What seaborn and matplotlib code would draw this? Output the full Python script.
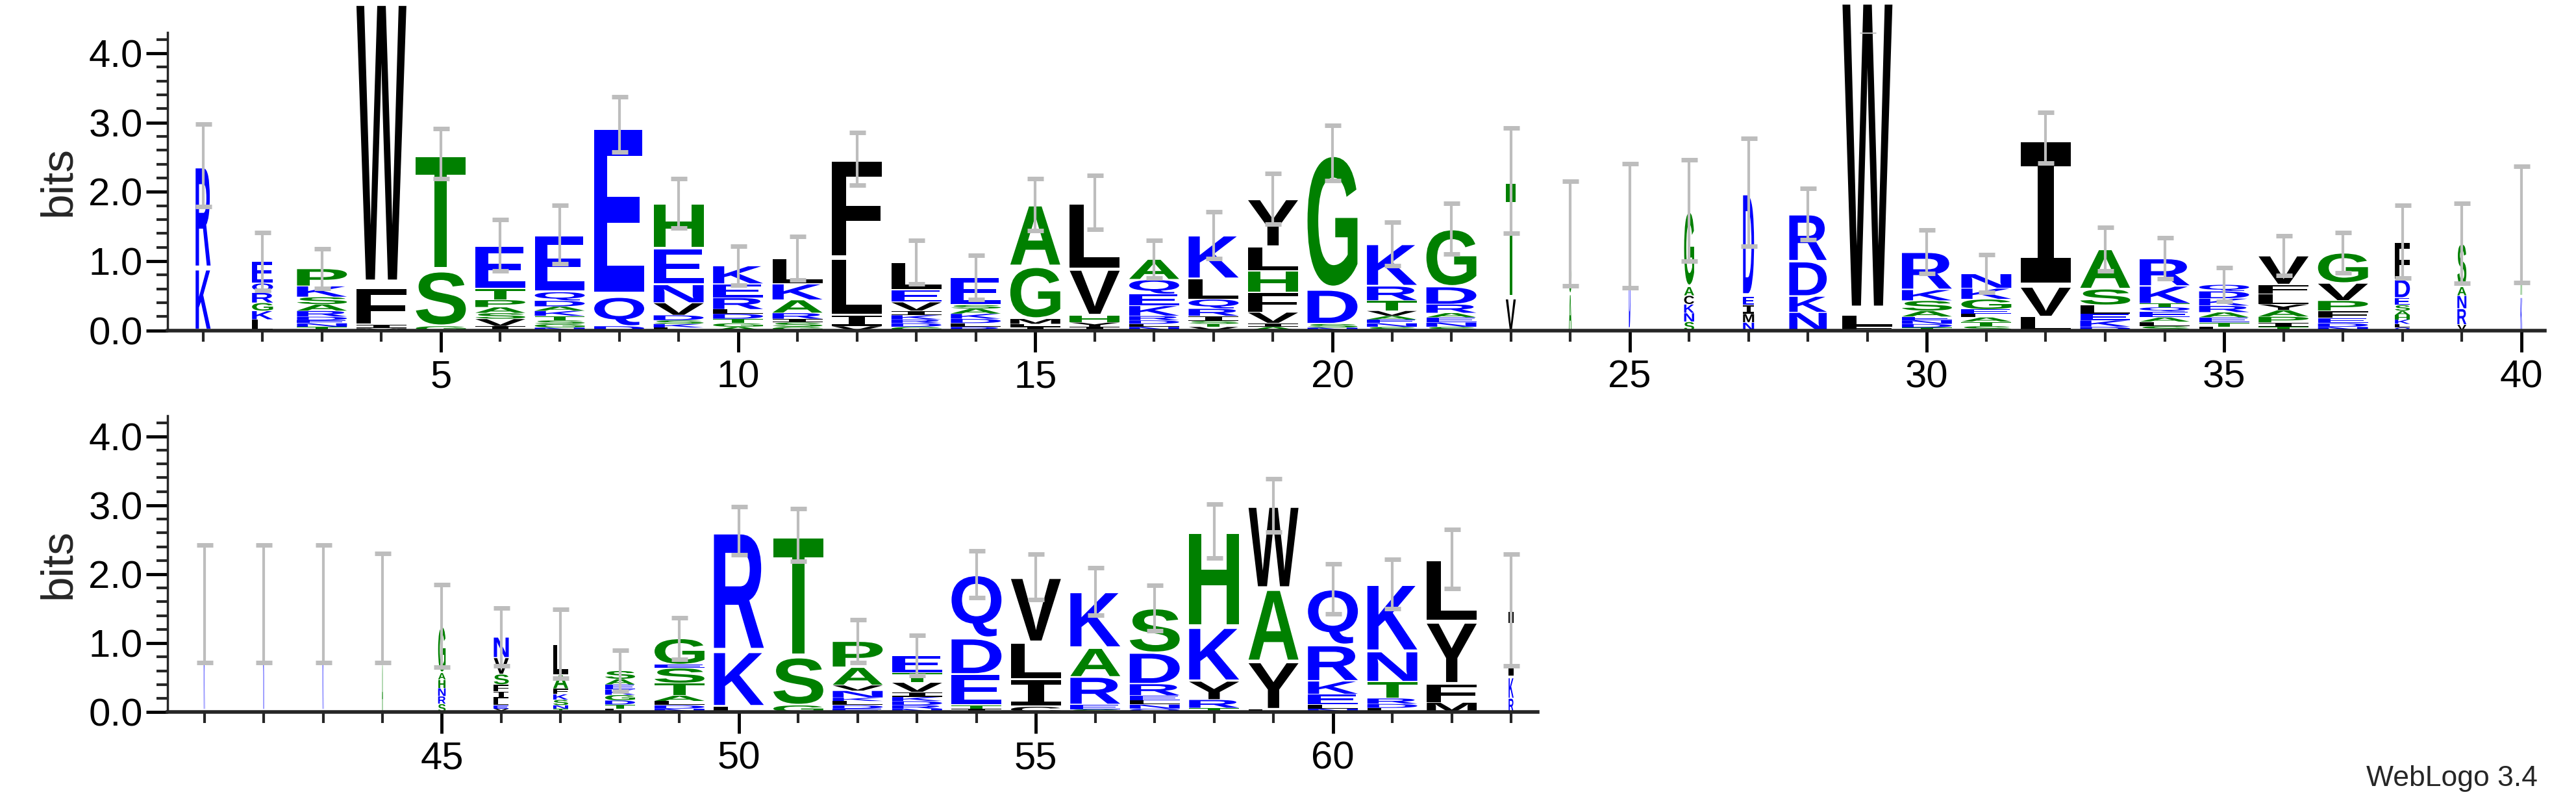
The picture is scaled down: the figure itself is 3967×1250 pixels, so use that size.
import matplotlib
matplotlib.use("Agg")
import matplotlib.pyplot as plt
import seaborn as sns
from matplotlib.textpath import TextPath
from matplotlib.patches import PathPatch
from matplotlib.transforms import Affine2D
from matplotlib.font_manager import FontProperties
from matplotlib.ticker import MultipleLocator

# letter stacks per position, bottom to top, heights in bits
top_letters = [
    "KR", "LKGRQE", "TNEDRASKP", "MIFW", "GST", "IVSAPTE", "NGSTKADQE", "DQE",
    "LKSDVNEH", "AGTDLREK", "GSIRAKL", "VILF", "GDRKIVEL", "RLDKASE", "ILMGA",
    "IYHVL", "NLDRKEQA", "VTSIRQLK", "AIVFHLY", "NSDG", "SNEAVTRK", "SNEARDG",
    "VT", "AS", "D", "SNKCAG", "NMIED", "NKDR", "FLW", "TDNEASKR", "STALEGKN",
    "LVI", "DKELSA", "SLAEQTKR", "LTEARKDQ", "TIPAYLFV", "NDEFPVG",
    "QLKHASEDF", "VRNAS", "KA",
]
top_heights = [
    [0.85, 1.42], [0.15, 0.12, 0.11, 0.14, 0.13, 0.30],
    [0.05, 0.05, 0.04, 0.05, 0.08, 0.09, 0.10, 0.15, 0.24],
    [0.03, 0.05, 0.50, 4.00], [0.06, 0.76, 1.61],
    [0.06, 0.10, 0.08, 0.08, 0.10, 0.15, 0.60],
    [0.04, 0.05, 0.05, 0.06, 0.07, 0.06, 0.08, 0.12, 0.79], [0.06, 0.40, 2.37],
    [0.04, 0.05, 0.05, 0.07, 0.17, 0.25, 0.50, 0.62],
    [0.05, 0.05, 0.06, 0.07, 0.06, 0.16, 0.19, 0.25],
    [0.05, 0.06, 0.05, 0.08, 0.18, 0.22, 0.35], [0.06, 0.15, 0.78, 1.37],
    [0.05, 0.05, 0.05, 0.06, 0.06, 0.12, 0.17, 0.38],
    [0.05, 0.05, 0.06, 0.07, 0.07, 0.05, 0.38], [0.05, 0.04, 0.07, 0.72, 0.85],
    [0.05, 0.06, 0.10, 0.63, 0.92], [0.05, 0.04, 0.05, 0.06, 0.14, 0.16, 0.20, 0.28],
    [0.05, 0.04, 0.04, 0.07, 0.10, 0.13, 0.28, 0.60],
    [0.05, 0.05, 0.15, 0.27, 0.30, 0.33, 0.66], [0.04, 0.05, 0.47, 1.88],
    [0.05, 0.05, 0.05, 0.05, 0.07, 0.14, 0.20, 0.58],
    [0.05, 0.06, 0.07, 0.06, 0.12, 0.24, 0.80],
    [0.44, 1.62], [0.50, 0.83], [1.44], [0.12, 0.12, 0.12, 0.12, 0.12, 1.05],
    [0.11, 0.12, 0.12, 0.12, 1.43], [0.25, 0.22, 0.48, 0.65], [0.06, 0.15, 4.40],
    [0.04, 0.05, 0.05, 0.05, 0.08, 0.14, 0.15, 0.52],
    [0.06, 0.06, 0.06, 0.05, 0.06, 0.14, 0.15, 0.20], [0.19, 0.41, 2.05],
    [0.05, 0.09, 0.09, 0.12, 0.22, 0.55],
    [0.06, 0.06, 0.06, 0.08, 0.06, 0.05, 0.24, 0.38],
    [0.05, 0.06, 0.07, 0.07, 0.09, 0.10, 0.10, 0.09],
    [0.05, 0.06, 0.08, 0.09, 0.08, 0.14, 0.13, 0.40],
    [0.05, 0.05, 0.07, 0.10, 0.14, 0.24, 0.42],
    [0.04, 0.05, 0.06, 0.06, 0.06, 0.08, 0.10, 0.25, 0.52],
    [0.08, 0.22, 0.18, 0.12, 0.60], [0.46, 1.00],
]
top_errors = [0.57, 0.40, 0.27, 0.45, 0.34, 0.35, 0.40, 0.38, 0.34, 0.27,
              0.30, 0.36, 0.30, 0.30, 0.36, 0.37, 0.26, 0.32, 0.35, 0.38,
              0.30, 0.35, 0.72, 0.72, 0.85, 0.70, 0.74, 0.35, 0.50, 0.30,
              0.26, 0.35, 0.30, 0.28, 0.23, 0.27, 0.28, 0.50, 0.55, 0.80]
top_occupancy = [0.30, 0.42, 1, 1, 1, 1, 1, 1, 1, 1,
                 1, 1, 1, 1, 1, 1, 1, 1, 1, 1,
                 1, 1, 0.20, 0.05, 0.03, 0.20, 0.22, 0.75, 1, 1,
                 1, 1, 1, 1, 1, 1, 1, 0.30, 0.18, 0.03]

bottom_letters = [
    "K", "K", "K", "AK", "SRNHAG", "YELIFSVN", "TNSKFAL", "LTDGKEAS",
    "NDLATSEG", "LKR", "GST", "EDLKNVAP", "NRDKIVTE", "ITEDQ", "CILV",
    "SERAK", "QNLERDS", "TRYKH", "LYAW", "NLEKRQ", "LDRTNK", "MFYL", "RKI",
]
bottom_heights = [
    [1.57], [1.57], [1.57], [0.70, 0.81],
    [0.12, 0.11, 0.12, 0.12, 0.10, 0.68],
    [0.05, 0.05, 0.10, 0.10, 0.10, 0.15, 0.24, 0.30],
    [0.05, 0.05, 0.08, 0.08, 0.08, 0.20, 0.45],
    [0.05, 0.06, 0.06, 0.08, 0.08, 0.07, 0.08, 0.12],
    [0.05, 0.05, 0.06, 0.08, 0.18, 0.22, 0.05, 0.38],
    [0.08, 0.80, 1.75], [0.10, 0.70, 1.77],
    [0.05, 0.05, 0.06, 0.05, 0.10, 0.08, 0.26, 0.38],
    [0.05, 0.05, 0.06, 0.06, 0.07, 0.14, 0.14, 0.25],
    [0.05, 0.05, 0.45, 0.52, 0.93], [0.08, 0.40, 0.53, 0.95],
    [0.04, 0.07, 0.40, 0.42, 0.82], [0.05, 0.06, 0.06, 0.07, 0.17, 0.45, 0.65],
    [0.06, 0.12, 0.27, 0.78, 1.40], [0.04, 0.69, 1.06, 1.21],
    [0.05, 0.06, 0.15, 0.19, 0.52, 0.82], [0.06, 0.06, 0.08, 0.24, 0.44, 0.98],
    [0.14, 0.27, 0.90, 0.91], [0.20, 0.30, 0.98],
]
bottom_errors = [0.85, 0.85, 0.85, 0.79, 0.60, 0.42, 0.50, 0.30, 0.30, 0.35,
                 0.38, 0.31, 0.29, 0.34, 0.33, 0.34, 0.33, 0.39, 0.39, 0.36,
                 0.36, 0.43, 0.81]
bottom_occupancy = [0.02, 0.02, 0.02, 0.02, 0.15, 0.30, 0.30, 0.60, 1, 1,
                    1, 1, 1, 1, 1, 1, 1, 1, 1, 1, 1, 1, 0.10]

TOP_SCALE = 1.05  # calibration of the readings for the first row

blue = set("KREDQN")
green = set("GSTAPH")


def letter_color(ch):
    if ch in blue:
        return "#0000ff"
    if ch in green:
        return "#008000"
    return "#000000"


fp = FontProperties(family="Liberation Sans", weight="bold")
fp_i = FontProperties(family="DejaVu Sans Mono", weight="bold")


def draw_letter(ax, ch, x, y0, w, h):
    tp = TextPath((0, 0), ch, size=1, prop=fp_i if ch == "I" else fp)
    bb = tp.get_extents()
    tr = (Affine2D().translate(-bb.x0, -bb.y0)
          .scale(w / bb.width, h / bb.height).translate(x - w / 2, y0))
    ax.add_patch(PathPatch(tr.transform_path(tp), fc=letter_color(ch),
                           ec="none", lw=0, clip_on=False, zorder=2))


def draw_logo(ax, start, letters, heights, errors, occupancy, scale):
    tops = []
    for i, (lets, hs) in enumerate(zip(letters, heights)):
        x = start + i
        w = 0.84 * occupancy[i]
        y = 0.0
        for ch, h in zip(lets, hs):
            h = h * scale
            draw_letter(ax, ch, x, y + h * 0.03, w, h * 0.94)
            y += h
        tops.append(y)
    xs = list(range(start, start + len(letters)))
    ax.errorbar(xs, tops, yerr=[e * scale for e in errors], fmt="none",
                ecolor="#bdbdbd", elinewidth=3, capsize=9, capthick=5, zorder=3)


sns.set_theme(style="ticks")
plt.rcParams["font.family"] = ["Liberation Sans", "DejaVu Sans"]

fig = plt.figure(figsize=(39.67, 12.5), dpi=100)
ax1 = fig.add_axes([0.065, 0.593, 0.923, 0.367])
ax2 = fig.add_axes([0.065, 0.123, 0.532, 0.365])

draw_logo(ax1, 1, top_letters, top_heights, top_errors, top_occupancy, TOP_SCALE)
draw_logo(ax2, 41, bottom_letters, bottom_heights, bottom_errors, bottom_occupancy, 1.0)

ax1.set_xlim(0.4, 40.4)
ax2.set_xlim(40.38, 63.45)
for ax in (ax1, ax2):
    ax.set_ylim(0, 4.3)
    ax.yaxis.set_minor_locator(MultipleLocator(0.2))
    ax.set_yticks([0, 1, 2, 3, 4])
    ax.set_yticklabels(["0.0", "1.0", "2.0", "3.0", "4.0"])
    ax.xaxis.set_minor_locator(MultipleLocator(1))
    ax.xaxis.set_major_locator(MultipleLocator(5))
    ax.tick_params(axis="both", which="major", labelsize=43, width=3.5, length=24,
                   direction="out", colors="black")
    ax.tick_params(axis="both", which="minor", width=3, length=12, direction="out")
    ax.tick_params(axis="x", which="major", pad=8)
    ax.set_ylabel("bits", fontsize=50, labelpad=10)
    sns.despine(ax=ax)
    ax.spines["left"].set_linewidth(2.5)
    ax.spines["bottom"].set_linewidth(4)
    ax.spines["left"].set_bounds(0, 4.3)
    ax.set_facecolor("white")

fig.text(0.985, 0.025, "WebLogo 3.4", fontsize=32, ha="right", va="bottom",
         family=["Liberation Sans Narrow", "Liberation Sans", "DejaVu Sans"])
fig.savefig("out.png", dpi=100, facecolor="white")
